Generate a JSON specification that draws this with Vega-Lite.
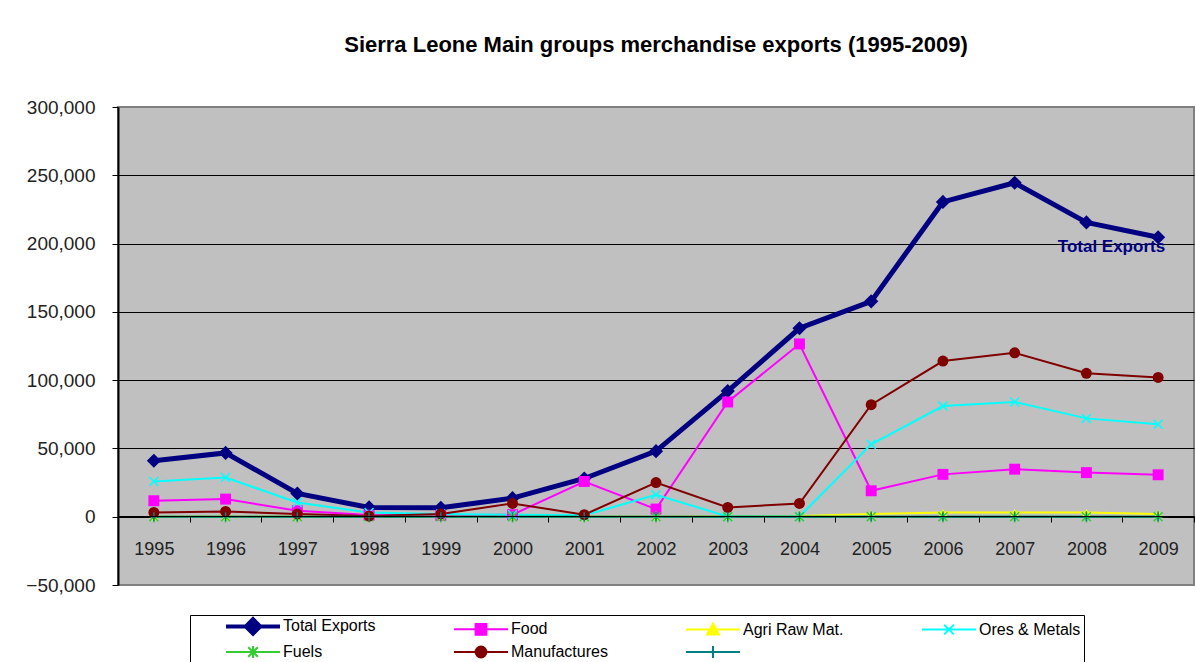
{
  "$schema": "https://vega.github.io/schema/vega-lite/v6.json",
  "width": 1076,
  "height": 478,
  "autosize": {"type": "none"},
  "padding": {"left": 118, "top": 107, "right": 2, "bottom": 77},
  "background": "white",
  "title": {
    "text": "Sierra Leone Main groups merchandise exports (1995-2009)",
    "font": "Liberation Sans",
    "fontSize": 22,
    "fontWeight": "bold",
    "color": "black",
    "anchor": "middle",
    "offset": 41
  },
  "config": {
    "view": {"fill": "#C0C0C0", "stroke": "#808080", "strokeWidth": 2},
    "font": "Liberation Sans"
  },
  "data": {
    "values": [
      {"year": "1995", "series": "Total Exports", "value": 41000},
      {"year": "1996", "series": "Total Exports", "value": 46700},
      {"year": "1997", "series": "Total Exports", "value": 17000},
      {"year": "1998", "series": "Total Exports", "value": 6800},
      {"year": "1999", "series": "Total Exports", "value": 6500},
      {"year": "2000", "series": "Total Exports", "value": 13600},
      {"year": "2001", "series": "Total Exports", "value": 28000},
      {"year": "2002", "series": "Total Exports", "value": 48000},
      {"year": "2003", "series": "Total Exports", "value": 92000},
      {"year": "2004", "series": "Total Exports", "value": 138000},
      {"year": "2005", "series": "Total Exports", "value": 157700},
      {"year": "2006", "series": "Total Exports", "value": 230500},
      {"year": "2007", "series": "Total Exports", "value": 244500},
      {"year": "2008", "series": "Total Exports", "value": 215500},
      {"year": "2009", "series": "Total Exports", "value": 204600},
      {"year": "1995", "series": "Food", "value": 11700},
      {"year": "1996", "series": "Food", "value": 12900},
      {"year": "1997", "series": "Food", "value": 4400},
      {"year": "1998", "series": "Food", "value": 1200},
      {"year": "1999", "series": "Food", "value": 1000},
      {"year": "2000", "series": "Food", "value": 1500},
      {"year": "2001", "series": "Food", "value": 25800},
      {"year": "2002", "series": "Food", "value": 5600},
      {"year": "2003", "series": "Food", "value": 84000},
      {"year": "2004", "series": "Food", "value": 126500},
      {"year": "2005", "series": "Food", "value": 19000},
      {"year": "2006", "series": "Food", "value": 31000},
      {"year": "2007", "series": "Food", "value": 34800},
      {"year": "2008", "series": "Food", "value": 32300},
      {"year": "2009", "series": "Food", "value": 30700},
      {"year": "1995", "series": "Agri Raw Mat.", "value": 0},
      {"year": "1996", "series": "Agri Raw Mat.", "value": 0},
      {"year": "1997", "series": "Agri Raw Mat.", "value": 0},
      {"year": "1998", "series": "Agri Raw Mat.", "value": 0},
      {"year": "1999", "series": "Agri Raw Mat.", "value": 0},
      {"year": "2000", "series": "Agri Raw Mat.", "value": 0},
      {"year": "2001", "series": "Agri Raw Mat.", "value": 0},
      {"year": "2002", "series": "Agri Raw Mat.", "value": 0},
      {"year": "2003", "series": "Agri Raw Mat.", "value": 200},
      {"year": "2004", "series": "Agri Raw Mat.", "value": 500},
      {"year": "2005", "series": "Agri Raw Mat.", "value": 2000},
      {"year": "2006", "series": "Agri Raw Mat.", "value": 3000},
      {"year": "2007", "series": "Agri Raw Mat.", "value": 3000},
      {"year": "2008", "series": "Agri Raw Mat.", "value": 3000},
      {"year": "2009", "series": "Agri Raw Mat.", "value": 2000},
      {"year": "1995", "series": "Ores & Metals", "value": 25800},
      {"year": "1996", "series": "Ores & Metals", "value": 28700},
      {"year": "1997", "series": "Ores & Metals", "value": 10400},
      {"year": "1998", "series": "Ores & Metals", "value": 3000},
      {"year": "1999", "series": "Ores & Metals", "value": 2000},
      {"year": "2000", "series": "Ores & Metals", "value": 1500},
      {"year": "2001", "series": "Ores & Metals", "value": 1000},
      {"year": "2002", "series": "Ores & Metals", "value": 16000},
      {"year": "2003", "series": "Ores & Metals", "value": 200},
      {"year": "2004", "series": "Ores & Metals", "value": 200},
      {"year": "2005", "series": "Ores & Metals", "value": 53000},
      {"year": "2006", "series": "Ores & Metals", "value": 81000},
      {"year": "2007", "series": "Ores & Metals", "value": 84000},
      {"year": "2008", "series": "Ores & Metals", "value": 72000},
      {"year": "2009", "series": "Ores & Metals", "value": 67700},
      {"year": "1995", "series": "Fuels", "value": 0},
      {"year": "1996", "series": "Fuels", "value": 0},
      {"year": "1997", "series": "Fuels", "value": 0},
      {"year": "1998", "series": "Fuels", "value": 0},
      {"year": "1999", "series": "Fuels", "value": 0},
      {"year": "2000", "series": "Fuels", "value": 0},
      {"year": "2001", "series": "Fuels", "value": 0},
      {"year": "2002", "series": "Fuels", "value": 0},
      {"year": "2003", "series": "Fuels", "value": 0},
      {"year": "2004", "series": "Fuels", "value": 0},
      {"year": "2005", "series": "Fuels", "value": 0},
      {"year": "2006", "series": "Fuels", "value": 0},
      {"year": "2007", "series": "Fuels", "value": 0},
      {"year": "2008", "series": "Fuels", "value": 0},
      {"year": "2009", "series": "Fuels", "value": 0},
      {"year": "1995", "series": "Manufactures", "value": 3100},
      {"year": "1996", "series": "Manufactures", "value": 3900},
      {"year": "1997", "series": "Manufactures", "value": 2000},
      {"year": "1998", "series": "Manufactures", "value": 500},
      {"year": "1999", "series": "Manufactures", "value": 2000},
      {"year": "2000", "series": "Manufactures", "value": 9700},
      {"year": "2001", "series": "Manufactures", "value": 1500},
      {"year": "2002", "series": "Manufactures", "value": 25000},
      {"year": "2003", "series": "Manufactures", "value": 6800},
      {"year": "2004", "series": "Manufactures", "value": 9700},
      {"year": "2005", "series": "Manufactures", "value": 82000},
      {"year": "2006", "series": "Manufactures", "value": 114000},
      {"year": "2007", "series": "Manufactures", "value": 120000},
      {"year": "2008", "series": "Manufactures", "value": 105000},
      {"year": "2009", "series": "Manufactures", "value": 102000},
      {"year": "1995", "series": "Series7", "value": 0},
      {"year": "1996", "series": "Series7", "value": 0},
      {"year": "1997", "series": "Series7", "value": 0},
      {"year": "1998", "series": "Series7", "value": 0},
      {"year": "1999", "series": "Series7", "value": 0},
      {"year": "2000", "series": "Series7", "value": 0},
      {"year": "2001", "series": "Series7", "value": 0},
      {"year": "2002", "series": "Series7", "value": 0},
      {"year": "2003", "series": "Series7", "value": 0},
      {"year": "2004", "series": "Series7", "value": 0},
      {"year": "2005", "series": "Series7", "value": 0},
      {"year": "2006", "series": "Series7", "value": 0},
      {"year": "2007", "series": "Series7", "value": 0},
      {"year": "2008", "series": "Series7", "value": 0},
      {"year": "2009", "series": "Series7", "value": 0}
    ]
  },
  "encoding": {
    "x": {
      "field": "year",
      "type": "ordinal",
      "scale": {"type": "band", "paddingInner": 0, "paddingOuter": 0},
      "axis": {
        "title": null,
        "orient": "bottom",
        "offset": -69,
        "domainColor": "black",
        "domainWidth": 1,
        "tickColor": "black",
        "tickSize": 6,
        "tickBand": "extent",
        "labelAngle": 0,
        "labelFont": "Liberation Sans",
        "labelFontSize": 18,
        "labelColor": "#222222",
        "labelPadding": 18,
        "zindex": 1
      }
    },
    "y": {
      "field": "value",
      "type": "quantitative",
      "scale": {"domain": [-50000, 300000], "nice": false, "zero": false},
      "axis": {
        "title": null,
        "values": [-50000, 0, 50000, 100000, 150000, 200000, 250000, 300000],
        "format": ",d",
        "grid": true,
        "gridColor": {"condition": {"test": "datum.value == 300000 || datum.value == -50000", "value": "#808080"}, "value": "black"},
        "gridWidth": 1,
        "domainColor": "black",
        "domainWidth": 2,
        "tickColor": "black",
        "tickSize": 6,
        "labelFont": "Liberation Sans",
        "labelFontSize": 19,
        "labelColor": "#222222",
        "labelPadding": 17
      }
    },
    "color": {
      "field": "series",
      "type": "nominal",
      "sort": null,
      "scale": {
        "domain": ["Total Exports", "Food", "Agri Raw Mat.", "Ores & Metals", "Fuels", "Manufactures", "Series7"],
        "range": ["#000080", "#FF00FF", "#FFFF00", "#00FFFF", "#33CC33", "#800000", "#008080"]
      },
      "legend": {
        "title": " ",
        "titleOrient": "left",
        "titlePadding": 28,
        "orient": "none",
        "legendX": 72,
        "legendY": 508,
        "direction": "horizontal",
        "columns": 4,
        "columnPadding": 73,
        "rowPadding": 0,
        "padding": 3,
        "strokeColor": "black",
        "fillColor": "white",
        "symbolType": "M-0.5,0H8.5",
        "symbolSize": 144,
        "symbolStrokeWidth": 2.5,
        "labelFont": "Liberation Sans",
        "labelFontSize": 16,
        "labelColor": "black",
        "labelOffset": 46,
        "labelExpr": "datum.label == 'Series7' ? '' : datum.label",
        "encoding": {
          "symbols": {
            "shape": {"value": {"signal": "datum.value == 'Total Exports' ? 'M-0.5,0H8.5M4,-1.2L5.2,0L4,1.2L2.8,0Z' : datum.value == 'Food' ? 'M-0.5,0H8.5M3.1,-0.9H4.9V0.9H3.1Z' : datum.value == 'Agri Raw Mat.' ? 'M-0.5,0H8.5M4,-1L5,0.8H3Z' : datum.value == 'Ores & Metals' ? 'M-0.5,0H8.5M3.2,-0.8L4.8,0.8M3.2,0.8L4.8,-0.8' : datum.value == 'Fuels' ? 'M-0.5,0H8.5M3.2,-0.8L4.8,0.8M3.2,0.8L4.8,-0.8M4,-1V1' : datum.value == 'Manufactures' ? 'M-0.5,0H8.5M3.1,0A0.9,0.9 0 1,0 4.9,0A0.9,0.9 0 1,0 3.1,0Z' : 'M-0.5,0H8.5M4,-1V1'"}},
            "strokeWidth": {"value": {"signal": "datum.value == 'Total Exports' ? 4 : 2"}},
            "fill": {"value": {"signal": "scale('color', datum.value)"}},
            "stroke": {"value": {"signal": "scale('color', datum.value)"}}
          }
        }
      }
    }
  },
  "layer": [
    {
      "mark": {"type": "line", "interpolate": "linear"},
      "encoding": {
        "strokeWidth": {"condition": {"test": "datum.series == 'Total Exports'", "value": 5}, "value": 2}
      }
    },
    {
      "transform": [{"filter": "datum.series == 'Total Exports'"}],
      "mark": {"type": "point", "shape": "diamond", "filled": true, "size": 200, "opacity": 1}
    },
    {
      "transform": [{"filter": "datum.series == 'Food'"}],
      "mark": {"type": "point", "shape": "square", "filled": true, "size": 120, "opacity": 1}
    },
    {
      "transform": [{"filter": "datum.series == 'Agri Raw Mat.'"}],
      "mark": {"type": "point", "shape": "triangle-up", "filled": true, "size": 70, "opacity": 1}
    },
    {
      "transform": [{"filter": "datum.series == 'Ores & Metals'"}],
      "mark": {"type": "point", "shape": "M-1,-1L1,1M-1,1L1,-1", "filled": false, "size": 80, "strokeWidth": 1.5, "opacity": 1}
    },
    {
      "transform": [{"filter": "datum.series == 'Fuels'"}],
      "mark": {"type": "point", "shape": "M-1,-1L1,1M-1,1L1,-1M0,-1.3L0,1.3", "filled": false, "size": 80, "strokeWidth": 1.5, "opacity": 1}
    },
    {
      "transform": [{"filter": "datum.series == 'Manufactures'"}],
      "mark": {"type": "point", "shape": "circle", "filled": true, "size": 120, "opacity": 1}
    },
    {
      "transform": [{"filter": "datum.series == 'Series7'"}],
      "mark": {"type": "point", "shape": "M-1,0L1,0M0,-1L0,1", "filled": false, "size": 80, "strokeWidth": 1.5, "opacity": 1}
    },
    {
      "transform": [{"filter": "datum.series == 'Total Exports' && datum.year == '2009'"}],
      "mark": {
        "type": "text",
        "align": "right",
        "baseline": "middle",
        "dx": 7,
        "dy": 10,
        "font": "Liberation Sans",
        "fontSize": 17,
        "fontWeight": "bold",
        "color": "#000080"
      },
      "encoding": {"text": {"field": "series"}}
    }
  ]
}
